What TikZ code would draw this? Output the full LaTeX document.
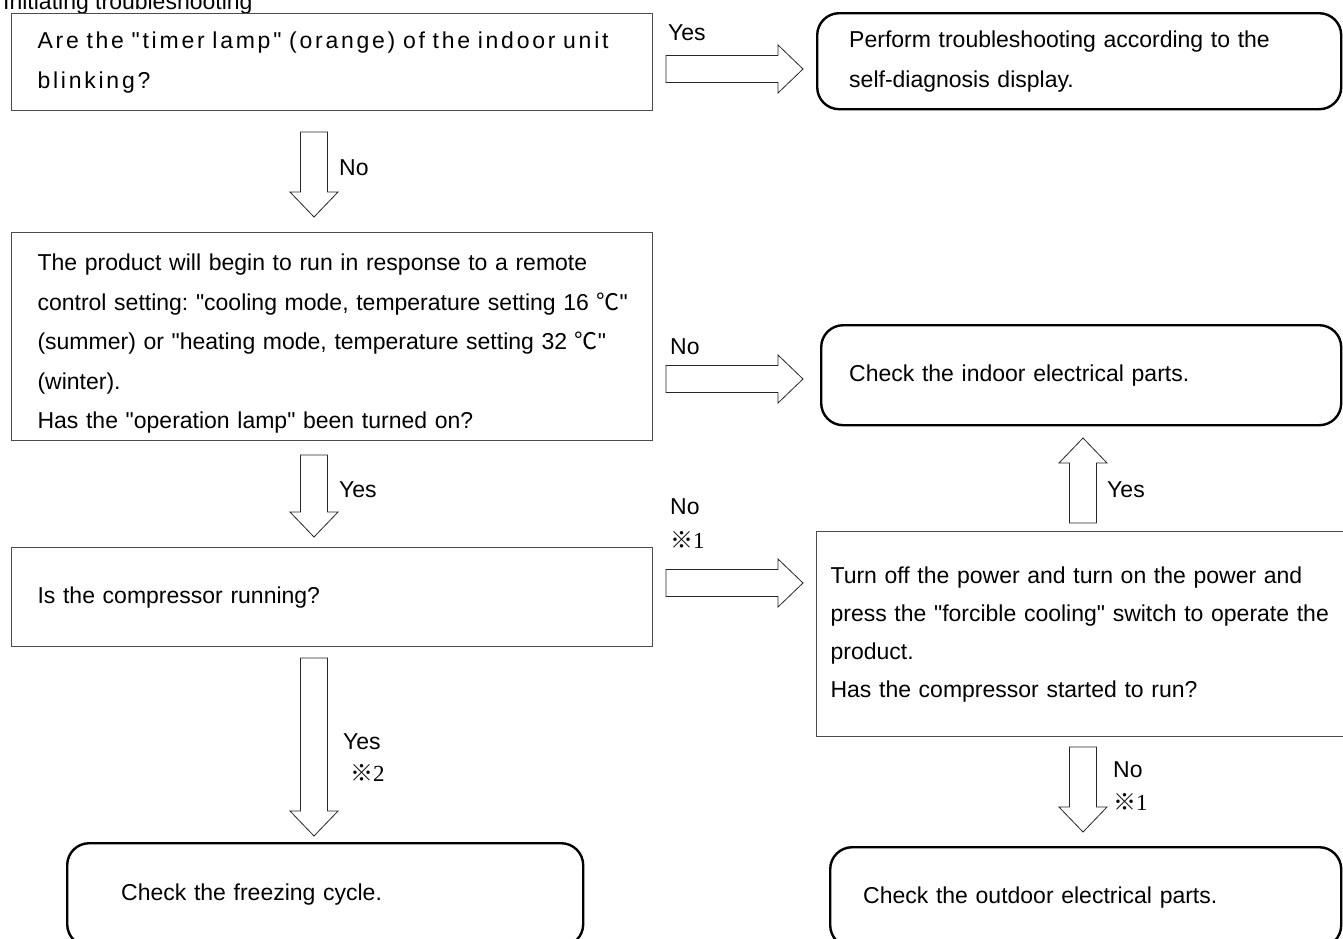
\documentclass[tikz,border=0pt]{standalone}
\usepackage{fontspec}
\setmainfont{Liberation Sans}[Ligatures=TeXOff]
\newfontfamily\cjk{Noto Sans CJK JP}
\newfontfamily\serifd{Liberation Serif}
\usetikzlibrary{calc}
\newcommand\kome[1]{{\cjk ※}{\serifd #1}}
\newcommand\degC{{\cjk ℃}}
\frenchspacing
% block arrow from coordinate #1 to coordinate #2
\newcommand\blockarrow[2]{%
  \coordinate (hb) at ($(#2)!25pt!(#1)$);
  \draw[blockarr] ($(#1)!13.5pt!90:(#2)$) -- ($(hb)!13.5pt!90:(#2)$) -- ($(hb)!24pt!90:(#2)$) -- (#2)
     -- ($(hb)!24pt!-90:(#2)$) -- ($(hb)!13.5pt!-90:(#2)$) -- ($(#1)!13.5pt!-90:(#2)$) -- cycle;}
\begin{document}
\begin{tikzpicture}[x=1pt,y=-1pt,
  every node/.style={font=\fontsize{23}{40}\selectfont},
  qbox/.style={draw=black!70, line width=1.1pt, anchor=north west, align=left, inner ysep=0pt},
  rbox/.style={draw=black, line width=2.4pt, rounded corners=22pt, anchor=north west, align=left, inner ysep=0pt},
  blockarr/.style={draw=black!85, line width=0.8pt, fill=white, line join=miter},
  lbl/.style={anchor=west, inner sep=0pt}]
\useasboundingbox (0,0) rectangle (1343,938);
\begin{scope}
\clip (0,0) rectangle (1343,938);
\node[anchor=base west, inner sep=0pt] (title) at (3,9) {Initiating troubleshooting};

\node[qbox, text width=589pt, inner xsep=26pt, minimum height=97pt,
  font=\fontsize{23}{40}\selectfont\addfontfeature{LetterSpace=12}] (q1) at (11,13)
  {Are the "timer lamp" (orange) of the indoor unit\\blinking?};
\node[rbox, text width=460pt, inner xsep=32pt, minimum height=96pt] (r1) at (816,12)
  {Perform troubleshooting according to the\\self-diagnosis display.};

\node[qbox, text width=589pt, inner xsep=26pt, minimum height=208pt,
  font=\fontsize{23}{39.5}\selectfont] (q2) at (11,232)
  {\rule{0pt}{31pt}The product will begin to run in response to a remote\\
   \mbox{control setting: "cooling mode, temperature setting 16 \degC"}\\
   \mbox{(summer) or "heating mode, temperature setting 32 \degC"}\\
   (winter).\\
   Has the "operation lamp" been turned on?};
\node[rbox, text width=464pt, inner xsep=28pt, minimum height=100pt] (r2) at (820,324)
  {Check the indoor electrical parts.};

\node[qbox, text width=589pt, inner xsep=26pt, minimum height=99pt] (q3) at (11,547)
  {Is the compressor running?};
\node[qbox, text width=572pt, inner xsep=14pt, minimum height=205pt,
  font=\fontsize{23}{38}\selectfont] (q4) at (816,531)
  {Turn off the power and turn on the power and\\
   press the "forcible cooling" switch to operate the\\
   product.\\
   Has the compressor started to run?};

\node[rbox, text width=408pt, inner xsep=54pt, minimum height=103pt] (r3) at (66,842)
  {Check the freezing cycle.};
\node[rbox, text width=445pt, inner xsep=33pt, minimum height=100pt] (r4) at (829,846)
  {Check the outdoor electrical parts.};

% arrow end points
\coordinate (a1s) at (666,69);  \coordinate (a1e) at (803,69);
\coordinate (a2s) at (314,132); \coordinate (a2e) at (314,217);
\coordinate (a3s) at (666,379); \coordinate (a3e) at (803,379);
\coordinate (a4s) at (314,455); \coordinate (a4e) at (314,537);
\coordinate (a5s) at (666,583); \coordinate (a5e) at (803,583);
\coordinate (a6s) at (1083,523); \coordinate (a6e) at (1083,438);
\coordinate (a7s) at (314,658); \coordinate (a7e) at (314,836);
\coordinate (a8s) at (1083,747); \coordinate (a8e) at (1083,832);

\blockarrow{a1s}{a1e}
\blockarrow{a2s}{a2e}
\blockarrow{a3s}{a3e}
\blockarrow{a4s}{a4e}
\blockarrow{a5s}{a5e}
\blockarrow{a6s}{a6e}
\blockarrow{a7s}{a7e}
\blockarrow{a8s}{a8e}

\node[lbl] (l1) at (668,33) {Yes};
\node[lbl] (l2) at (339,168) {No};
\node[lbl] (l3) at (670,347) {No};
\node[lbl] (l4) at (339,490) {Yes};
\node[lbl] (l5) at (670,507) {No};
\node[lbl] (l5b) at (670,540) {\kome{1}};
\node[lbl] (l6) at (1107,490) {Yes};
\node[lbl] (l7) at (343,742) {Yes};
\node[lbl] (l7b) at (350,773) {\kome{2}};
\node[lbl] (l8) at (1113,770) {No};
\node[lbl] (l8b) at (1113,802) {\kome{1}};
\end{scope}
\end{tikzpicture}
\end{document}
